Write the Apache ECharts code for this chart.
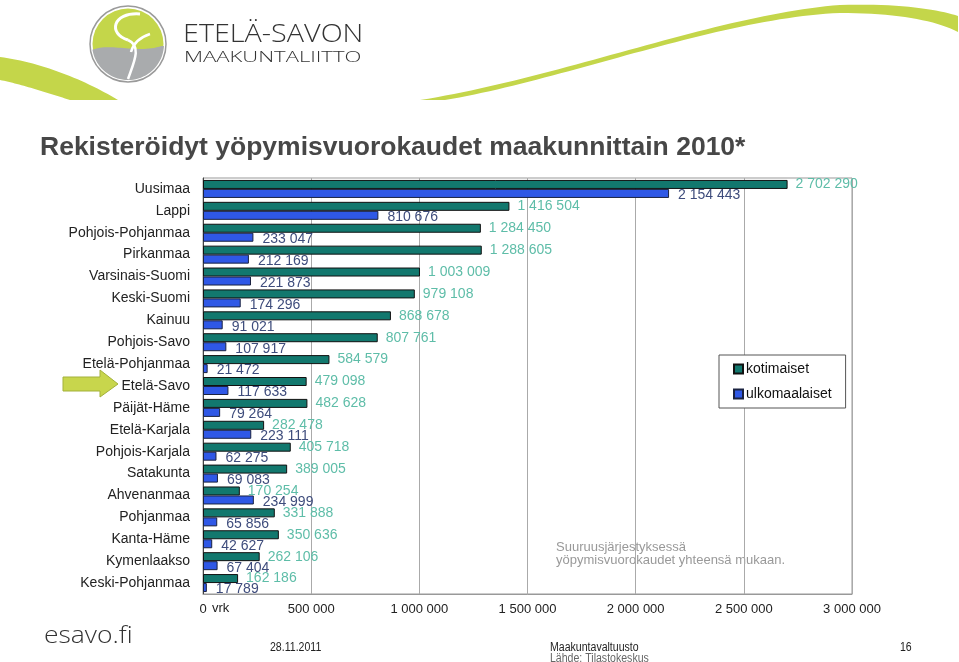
<!DOCTYPE html>
<html>
<head>
<meta charset="utf-8">
<title>Rekisteröidyt yöpymisvuorokaudet maakunnittain 2010*</title>
<script src="https://cdn.jsdelivr.net/npm/echarts@6/dist/echarts.min.js"></script>
<style>
  html, body { margin: 0; padding: 0; background: #fff; }
  #chart { width: 959px; height: 662px; }
</style>
</head>
<body>
<div id="chart"></div>
<script>
// maakunnat, järjestys yöpymisvuorokausien yhteismäärän mukaan
const regions = [
  "Uusimaa", "Lappi", "Pohjois-Pohjanmaa", "Pirkanmaa", "Varsinais-Suomi",
  "Keski-Suomi", "Kainuu", "Pohjois-Savo", "Etelä-Pohjanmaa", "Etelä-Savo",
  "Päijät-Häme", "Etelä-Karjala", "Pohjois-Karjala", "Satakunta", "Ahvenanmaa",
  "Pohjanmaa", "Kanta-Häme", "Kymenlaakso", "Keski-Pohjanmaa"
];
const kotimaiset = [
  2702290, 1416504, 1284450, 1288605, 1003009,
  979108, 868678, 807761, 584579, 479098,
  482628, 282478, 405718, 389005, 170254,
  331888, 350636, 262106, 162186
];
const ulkomaalaiset = [
  2154443, 810676, 233047, 212169, 221873,
  174296, 91021, 107917, 21472, 117633,
  79264, 223111, 62275, 69083, 234999,
  65856, 42627, 67404, 17789
];
const xTicks = [0, 500000, 1000000, 1500000, 2000000, 2500000, 3000000];

function fmt(v) {
  return String(v).replace(/\B(?=(\d{3})+(?!\d))/g, " ");
}

// pisteet kuutiollisesta Bezier-käyrästä (koristeille)
function bez(p0, p1, p2, p3, n) {
  const pts = [];
  for (let i = 0; i <= n; i++) {
    const t = i / n, u = 1 - t;
    pts.push([
      u * u * u * p0[0] + 3 * u * u * t * p1[0] + 3 * u * t * t * p2[0] + t * t * t * p3[0],
      u * u * u * p0[1] + 3 * u * u * t * p1[1] + 3 * u * t * t * p2[1] + t * t * t * p3[1]
    ]);
  }
  return pts;
}

function arc(cx, cy, r, a0, a1, n) {
  const pts = [];
  for (let i = 0; i <= n; i++) {
    const a = a0 + (a1 - a0) * i / n;
    pts.push([cx + r * Math.cos(a), cy + r * Math.sin(a)]);
  }
  return pts;
}

const green = "#c4d64a";

const swooshLeft = bez([0, 57], [40, 62], [85, 80], [118, 100], 30)
  .concat(bez([70, 100], [45, 92], [20, 84], [0, 80], 30));
const swooshRight = bez([420, 100], [560, 78], [720, 14], [840, 5], 50)
  .concat(bez([840, 5], [900, 3], [940, 10], [958, 16], 20))
  .concat(bez([958, 32], [935, 20], [895, 13], [840, 13], 20))
  .concat(bez([840, 13], [720, 18], [565, 80], [445, 100], 50));

// logon alaosa (harmaa)
const logoGray = bez([92, 50], [110, 42], [140, 55], [164, 45], 30)
  .concat(arc(128, 44, 36, Math.asin(1 / 36), Math.PI - Math.asin(6 / 36), 40));

const footText = (x, y, text, color) => ({
  type: "text", x: x, y: y, scaleX: 0.88,
  style: { text: text, fontSize: 12, fontFamily: "Liberation Sans", fill: color, textVerticalAlign: "middle", verticalAlign: "middle" }
});

const chart = echarts.init(document.getElementById("chart"));

const option = {
  backgroundColor: "#fff",
  animation: false,
  textStyle: { fontFamily: "Liberation Sans, Arial, sans-serif" },
  title: {
    text: "Rekisteröidyt yöpymisvuorokaudet maakunnittain 2010*",
    left: 40,
    top: 134,
    padding: 0,
    textStyle: { fontSize: 26.5, fontWeight: "bold", color: "#474747" }
  },
  legend: {
    orient: "vertical",
    left: 719,
    top: 355,
    width: 127,
    padding: [7, 14, 7, 14],
    itemWidth: 9,
    itemHeight: 9,
    itemGap: 11,
    borderColor: "#555",
    borderWidth: 1,
    backgroundColor: "#fff",
    icon: "rect",
    textStyle: { fontSize: 14, color: "#111", padding: [0, 0, 0, -2] },
    data: ["kotimaiset", "ulkomaalaiset"]
  },
  grid: {
    left: 203,
    right: 107,
    top: 178,
    bottom: 68,
    show: true,
    borderColor: "#999",
    borderWidth: 1,
    backgroundColor: "transparent"
  },
  xAxis: {
    type: "value",
    min: 0,
    max: 3000000,
    interval: 500000,
    axisLine: { show: true, lineStyle: { color: "#999" } },
    axisTick: { show: false },
    splitLine: { lineStyle: { color: "#aaa" } },
    axisLabel: {
      fontSize: 13,
      color: "#222",
      margin: 9,
      formatter: v => xTicks.indexOf(v) >= 0 ? fmt(v) : ""
    }
  },
  yAxis: {
    type: "category",
    inverse: true,
    data: regions,
    axisLine: { lineStyle: { color: "#444" } },
    axisTick: { length: 5, lineStyle: { color: "#444" } },
    axisLabel: { fontSize: 14, color: "#222", margin: 13 }
  },
  series: [
    {
      name: "kotimaiset",
      type: "bar",
      data: kotimaiset,
      barWidth: 9,
      barGap: "0%",
      itemStyle: { color: "#12786e", borderColor: "#111", borderWidth: 1 },
      label: {
        show: true,
        position: "right",
        distance: 8,
        fontSize: 14,
        color: "#5ebda8",
        formatter: p => fmt(p.value)
      }
    },
    {
      name: "ulkomaalaiset",
      type: "bar",
      data: ulkomaalaiset,
      barWidth: 9,
      barGap: "0%",
      itemStyle: { color: "#2f58e6", borderColor: "#1a2240", borderWidth: 1 },
      label: {
        show: true,
        position: "right",
        distance: 9,
        offset: [0, 2],
        fontSize: 14,
        color: "#3e4c7c",
        formatter: p => fmt(p.value)
      }
    }
  ],
  graphic: [
    // vihreä kaari yläreunassa
    { type: "polygon", shape: { points: swooshLeft }, style: { fill: green }, silent: true },
    { type: "polygon", shape: { points: swooshRight }, style: { fill: green }, silent: true },
    // logo
    { type: "circle", shape: { cx: 128, cy: 44, r: 38 }, style: { fill: "#fff", stroke: "#9a9a9a", lineWidth: 1.5 } },
    { type: "circle", shape: { cx: 128, cy: 44, r: 35.5 }, style: { fill: green } },
    { type: "polygon", shape: { points: logoGray }, style: { fill: "#a9abad" } },
    { type: "bezierCurve", shape: { x1: 140, y1: 14, cpx1: 112, cpy1: 12, cpx2: 108, cpy2: 34, x2: 128, y2: 40 }, style: { stroke: "#fff", lineWidth: 3, fill: null } },
    { type: "bezierCurve", shape: { x1: 128, y1: 40, cpx1: 142, cpy1: 46, cpx2: 134, cpy2: 62, x2: 128, y2: 79 }, style: { stroke: "#fff", lineWidth: 2.5, fill: null } },
    { type: "bezierCurve", shape: { x1: 131, y1: 52, cpx1: 134, cpy1: 40, cpx2: 144, cpy2: 36, x2: 150, y2: 34 }, style: { stroke: "#fff", lineWidth: 2.5, fill: null } },
    {
      type: "text", x: 183, y: 35, scaleX: 1.15,
      style: { text: "ETELÄ-SAVON", fontSize: 25, fontFamily: "Open Sans", fontWeight: 300, fill: "#333", textVerticalAlign: "middle", verticalAlign: "middle" }
    },
    {
      type: "text", x: 184, y: 58, scaleX: 1.47,
      style: { text: "MAAKUNTALIITTO", fontSize: 15, fontFamily: "Open Sans", fontWeight: 300, fill: "#333", textVerticalAlign: "middle", verticalAlign: "middle" }
    },
    // nuoli Etelä-Savon kohdalla
    {
      type: "polygon",
      shape: { points: [[63, 377], [100, 377], [100, 370], [118, 384], [100, 397], [100, 391], [63, 391]] },
      style: { fill: "#c8d64c", stroke: "#a3b13a", lineWidth: 1 }
    },
    {
      type: "text", x: 212, y: 608,
      style: { text: "vrk", fontSize: 13, fill: "#222", textVerticalAlign: "middle", verticalAlign: "middle" }
    },
    {
      type: "text", x: 556, y: 547,
      style: { text: "Suuruusjärjestyksessä", fontSize: 13, fill: "#999", textVerticalAlign: "middle", verticalAlign: "middle" }
    },
    {
      type: "text", x: 556, y: 560,
      style: { text: "yöpymisvuorokaudet yhteensä mukaan.", fontSize: 13, fill: "#999", textVerticalAlign: "middle", verticalAlign: "middle" }
    },
    // alatunniste
    {
      type: "text", x: 44, y: 636, scaleX: 1.15,
      style: { text: "esavo.fi", fontSize: 23, fontFamily: "Open Sans", fontWeight: 300, fill: "#333", textVerticalAlign: "middle", verticalAlign: "middle" }
    },
    footText(270, 648, "28.11.2011", "#222"),
    footText(550, 648, "Maakuntavaltuusto", "#222"),
    footText(550, 659, "Lähde: Tilastokeskus", "#666"),
    footText(900, 648, "16", "#222")
  ]
};

chart.setOption(option);
</script>
</body>
</html>
